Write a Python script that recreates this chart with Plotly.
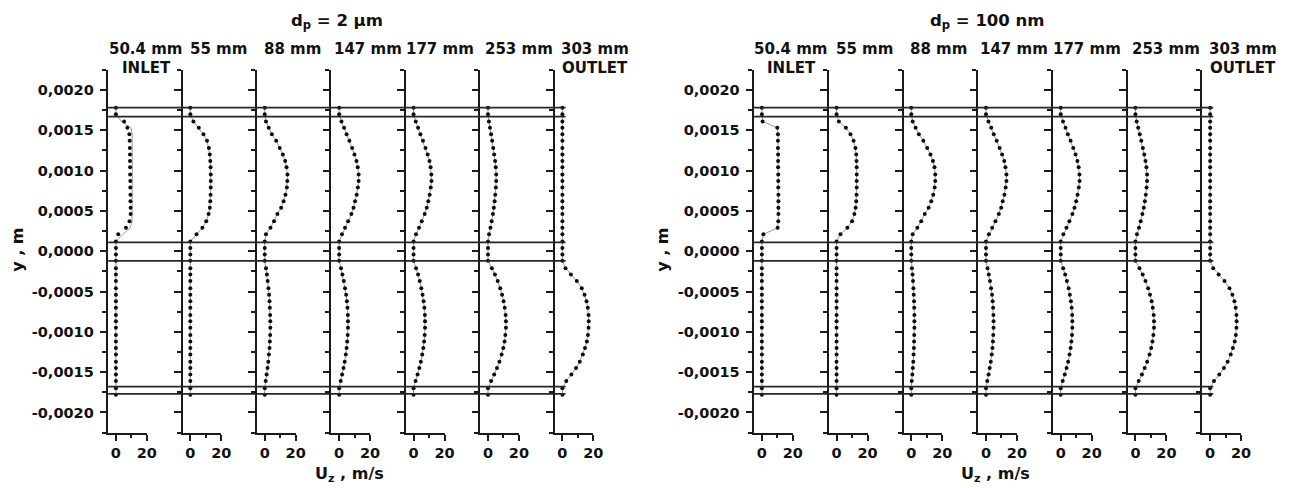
import plotly.graph_objects as go

W, H = 1289, 488
FONT = "DejaVu Sans"

# Sample heights across the two-channel cross-section (m)
Y_UPPER = [0.00178, 0.00170, 0.00161, 0.00153, 0.00145, 0.00137, 0.00128, 0.00120, 0.00112, 0.00104, 0.00095,
           0.00087, 0.00079, 0.00070, 0.00062, 0.00054, 0.00046, 0.00037, 0.00029, 0.00021, 0.00012, 0.00004]
Y_LOWER = [-0.00004, -0.00012, -0.00021, -0.00029, -0.00037, -0.00046, -0.00054, -0.00062, -0.00070, -0.00079,
           -0.00087, -0.00095, -0.00104, -0.00112, -0.00120, -0.00128, -0.00137, -0.00145, -0.00153, -0.00161,
           -0.00170, -0.00178]

# Channel wall boundaries (m)
WALL_Y = [0.00178, 0.00167, 0.00011, -0.00012, -0.00168, -0.00177]

LOCATIONS = ["50.4 mm", "55 mm", "88 mm", "147 mm", "177 mm", "253 mm", "303 mm"]
ZERO = [0, 0, 0, 0, 0, 0, 0, 0, 0, 0, 0, 0, 0, 0, 0, 0, 0, 0, 0, 0, 0, 0]

# Axial velocity Uz (m/s), d_p = 2 um
UP_2UM = {
    "50.4 mm": [0, 0, 5.3, 7.4, 8.7, 8.9, 9.0, 9.1, 9.1, 9.2, 9.2, 9.3, 9.3, 9.4, 9.4, 9.5, 9.5, 8.8, 6.5, 1.5, 0, 0],
    "55 mm": [0, 0, 2.0, 5.5, 8.5, 10.8, 12.0, 12.6, 12.9, 13.1, 13.2, 13.2, 13.2, 13.1, 12.9, 12.6, 11.8, 10.3, 7.8, 4.0, 0, 0],
    "88 mm": [0, 0, 0.8, 2.6, 4.6, 7.4, 9.7, 11.7, 13.2, 14.1, 14.7, 14.6, 14.3, 13.4, 12.2, 10.6, 8.2, 6.0, 3.7, 0.8, 0, 0],
    "147 mm": [0, 0, 1.5, 3.2, 4.8, 6.6, 8.4, 9.9, 11.2, 12.0, 12.6, 12.6, 12.1, 11.3, 10.3, 9.3, 7.9, 5.8, 3.8, 1.8, 0, 0],
    "177 mm": [0, 0, 1.4, 2.9, 4.4, 6.1, 7.7, 9.1, 10.3, 11.0, 11.5, 11.6, 11.1, 10.4, 9.5, 8.5, 7.2, 5.3, 3.5, 1.6, 0, 0],
    "253 mm": [0, 0, 0.6, 1.3, 2.0, 2.7, 3.4, 4.0, 4.6, 5.0, 5.3, 5.3, 5.1, 4.7, 4.3, 3.8, 3.2, 2.4, 1.6, 0.7, 0, 0],
    "303 mm": ZERO,
}
LO_2UM = {
    "50.4 mm": ZERO,
    "55 mm": ZERO,
    "88 mm": [0, 0, 0.8, 1.4, 1.9, 2.4, 2.8, 3.1, 3.3, 3.5, 3.6, 3.6, 3.5, 3.3, 3.1, 2.7, 2.3, 1.8, 1.2, 0.6, 0, 0],
    "147 mm": [0, 0, 1.2, 2.1, 3.0, 3.8, 4.5, 5.0, 5.4, 5.6, 5.7, 5.7, 5.5, 5.2, 4.8, 4.3, 3.6, 2.8, 1.9, 1.0, 0, 0],
    "177 mm": [0, 0, 1.6, 2.9, 4.0, 5.0, 5.8, 6.5, 7.0, 7.3, 7.4, 7.4, 7.2, 6.8, 6.3, 5.6, 4.7, 3.7, 2.6, 1.3, 0, 0],
    "253 mm": [0, 0, 2.5, 4.5, 6.3, 7.9, 9.1, 10.1, 10.8, 11.4, 11.6, 11.6, 11.2, 10.7, 9.9, 8.8, 7.4, 5.8, 4.0, 2.0, 0, 0],
    "303 mm": [0, 0, 2.0, 5.5, 9.3, 12.5, 14.3, 15.6, 16.4, 16.9, 17.0, 16.9, 16.5, 15.8, 14.6, 13.2, 11.2, 8.8, 5.8, 2.5, 0, 0],
}
# Carrier-gas profile at the inlet (thin grey curve), d_p = 2 um
GAS_INLET_2UM = [0, 0, 3.5, 9.8, 10.5, 10.6, 10.6, 10.6, 10.6, 10.6, 10.6, 10.6, 10.6, 10.6, 10.6, 10.6, 10.6, 10.4,
                 9.3, 4.5, 0, 0]

# Axial velocity Uz (m/s), d_p = 100 nm
UP_100NM = {
    "50.4 mm": [0, 0, 0.5, 10.0, 10.4, 10.4, 10.4, 10.5, 10.5, 10.5, 10.6, 10.6, 10.6, 10.7, 10.7, 10.7, 10.7, 10.6, 10.2, 1.0, 0, 0],
    "55 mm": [0, 0, 1.5, 6.0, 9.0, 11.0, 12.2, 12.7, 12.9, 13.0, 13.0, 13.0, 13.0, 12.9, 12.7, 12.3, 11.5, 10.0, 7.0, 2.5, 0, 0],
    "88 mm": [0, 0, 0.9, 2.8, 4.9, 7.8, 10.3, 12.4, 14.0, 15.0, 15.5, 15.5, 15.1, 14.2, 12.9, 11.2, 8.7, 6.4, 3.9, 0.9, 0, 0],
    "147 mm": [0, 0, 1.6, 3.4, 5.0, 6.9, 8.8, 10.4, 11.8, 12.6, 13.2, 13.2, 12.7, 11.9, 10.8, 9.8, 8.3, 6.1, 4.0, 1.9, 0, 0],
    "177 mm": [0, 0, 1.5, 3.1, 4.6, 6.4, 8.1, 9.6, 10.8, 11.6, 12.1, 12.2, 11.7, 10.9, 10.0, 8.9, 7.6, 5.6, 3.7, 1.7, 0, 0],
    "253 mm": [0, 0, 0.8, 1.8, 2.8, 3.8, 4.8, 5.7, 6.5, 7.1, 7.5, 7.5, 7.2, 6.7, 6.1, 5.4, 4.5, 3.4, 2.3, 1.0, 0, 0],
    "303 mm": ZERO,
}
LO_100NM = {
    "50.4 mm": ZERO,
    "55 mm": ZERO,
    "88 mm": [0, 0, 0.4, 0.8, 1.1, 1.4, 1.6, 1.8, 1.9, 2.0, 2.0, 2.0, 1.9, 1.8, 1.7, 1.5, 1.3, 1.0, 0.7, 0.3, 0, 0],
    "147 mm": [0, 0, 1.0, 1.8, 2.6, 3.3, 3.9, 4.3, 4.6, 4.8, 4.9, 4.9, 4.7, 4.5, 4.2, 3.7, 3.1, 2.4, 1.7, 0.8, 0, 0],
    "177 mm": [0, 0, 1.6, 2.9, 4.0, 5.1, 5.9, 6.6, 7.1, 7.4, 7.5, 7.5, 7.3, 6.9, 6.4, 5.7, 4.8, 3.8, 2.6, 1.3, 0, 0],
    "253 mm": [0, 0, 2.6, 4.7, 6.5, 8.2, 9.4, 10.5, 11.2, 11.8, 12.0, 12.0, 11.6, 11.0, 10.2, 9.1, 7.6, 6.0, 4.2, 2.1, 0, 0],
    "303 mm": [0, 0, 2.0, 5.5, 9.3, 12.5, 14.4, 15.7, 16.5, 17.0, 17.1, 17.0, 16.6, 15.9, 14.7, 13.3, 11.3, 8.9, 5.9, 2.5, 0, 0],
}

Y_TICKS = [-0.002, -0.0015, -0.001, -0.0005, 0.0, 0.0005, 0.001, 0.0015, 0.002]
Y_TICK_TEXT = ["-0,0020", "-0,0015", "-0,0010", "-0,0005", "0,0000", "0,0005", "0,0010", "0,0015", "0,0020"]
Y_MINOR = [-0.00225, -0.00175, -0.00125, -0.00075, -0.00025, 0.00025, 0.00075, 0.00125, 0.00175, 0.00225]
X_TICKS = [0, 20]
X_TICK_TEXT = ["0", "20"]
X_MINOR = [10]

# Panel geometry in pixels
PANELS = [
    dict(title="<b>d<sub>p</sub> = 2 \u03bcm</b>", title_xy=(340, 21), up=UP_2UM, lo=LO_2UM,
         gas={"50.4 mm": GAS_INLET_2UM}, x0=109, step=75.0, ytitle_x=18, xtitle_x=352,
         col_x=[147, 220, 295, 371, 443, 523, 600]),
    dict(title="<b>d<sub>p</sub> = 100 nm</b>", title_xy=(995, 22), up=UP_100NM, lo=LO_100NM,
         gas={}, x0=760, step=75.3, ytitle_x=668, xtitle_x=1003,
         col_x=[797, 871, 946, 1022, 1095, 1175, 1253]),
]
SUB_W = 39.0
Y_TOP_PX, Y_BOT_PX = 69.8, 432.6
Y_DOM = [(H - Y_BOT_PX) / H, (H - Y_TOP_PX) / H]

AX_COLOR = "#1a1a1a"
tick_font = dict(family=FONT, size=14.5, color="#111", weight="bold")
label_font = dict(family=FONT, size=15, color="#111")

fig = go.Figure()
layout = {}
annotations = []
shapes = []
Y_ALL = Y_UPPER + Y_LOWER


def paper_text(text, px, py, size=15, angle=0):
    return dict(text=text, x=px / W, y=1 - py / H, xref="paper", yref="paper", showarrow=False,
                xanchor="center", yanchor="middle", textangle=angle,
                font=dict(family=FONT, size=size, color="#111"))


idx = 0
for p in PANELS:
    first_idx = idx + 1
    for k, loc in enumerate(LOCATIONS):
        idx += 1
        xs = "" if idx == 1 else str(idx)
        u = p["up"][loc] + p["lo"][loc]
        gas_up = p["gas"].get(loc, p["up"][loc])
        u_line = gas_up + p["lo"][loc]
        fig.add_trace(go.Scatter(x=u_line, y=Y_ALL, mode="lines", line=dict(color="#9a9a9a", width=1),
                                 xaxis="x" + xs, yaxis="y" + xs, hoverinfo="skip", showlegend=False))
        fig.add_trace(go.Scatter(x=u, y=Y_ALL, mode="markers", marker=dict(color="#0d0d0d", size=4),
                                 xaxis="x" + xs, yaxis="y" + xs, showlegend=False))
        left = p["x0"] + k * p["step"]
        layout["xaxis" + xs] = dict(
            domain=[left / W, (left + SUB_W) / W], anchor="y" + xs, range=[-5, 20],
            showline=True, linecolor=AX_COLOR, linewidth=2, showgrid=False, zeroline=False,
            tickmode="array", tickvals=X_TICKS, ticktext=X_TICK_TEXT, ticks="outside", ticklen=6,
            tickwidth=1.8, tickcolor=AX_COLOR, tickfont=tick_font,
            minor=dict(tickmode="array", tickvals=X_MINOR, ticks="outside", ticklen=3, tickwidth=1.8,
                       tickcolor=AX_COLOR),
        )
        layout["yaxis" + xs] = dict(
            domain=Y_DOM, anchor="x" + xs, range=[-0.00225, 0.00225],
            showline=True, linecolor=AX_COLOR, linewidth=2, showgrid=False, zeroline=False,
            tickmode="array", tickvals=Y_TICKS, ticktext=Y_TICK_TEXT, ticks="outside", ticklen=6.5,
            tickwidth=1.8, tickcolor=AX_COLOR, tickfont=tick_font, showticklabels=(k == 0),
            ticklabelstandoff=3,
            minor=dict(tickmode="array", tickvals=Y_MINOR, ticks="outside", ticklen=4, tickwidth=1.8,
                       tickcolor=AX_COLOR),
        )
        # station label above each profile
        annotations.append(paper_text("<b>%s</b>" % loc, p["col_x"][k], 49))
    annotations.append(paper_text("<b>INLET</b>", p["col_x"][0] + 1, 68))
    annotations.append(paper_text("<b>OUTLET</b>", p["col_x"][6], 68))
    annotations.append(paper_text(p["title"], p["title_xy"][0], p["title_xy"][1], size=16.5))
    annotations.append(paper_text("<b>y , m</b>", p["ytitle_x"], 250, size=16, angle=-90))
    annotations.append(paper_text("<b>U<sub>z</sub> , m/s</b>", p["xtitle_x"], 474, size=16))
    # channel walls spanning all stations of the panel
    yref = "y" if first_idx == 1 else "y%d" % first_idx
    x_start = p["x0"] / W
    x_end = (p["x0"] + 6 * p["step"] + 11) / W
    for wy in WALL_Y:
        shapes.append(dict(type="line", xref="paper", yref=yref, x0=x_start, x1=x_end, y0=wy, y1=wy,
                           line=dict(color="#262626", width=1.8)))

fig.update_layout(
    width=W, height=H, autosize=False,
    margin=dict(l=0, r=0, t=0, b=0),
    paper_bgcolor="white", plot_bgcolor="white",
    showlegend=False, annotations=annotations, shapes=shapes,
    **layout,
)

fig.write_html("out.html")
